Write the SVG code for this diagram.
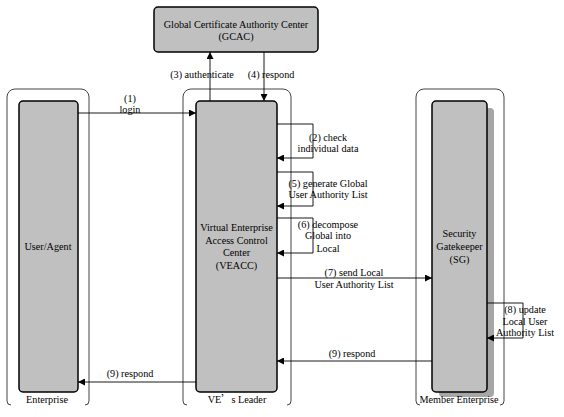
<svg xmlns="http://www.w3.org/2000/svg" width="564" height="417" viewBox="0 0 564 417">
<style>
text{font-family:"Liberation Serif","Times New Roman",serif;font-size:10.2px;fill:#000;text-anchor:middle}
.cont{fill:none;stroke:#444;stroke-width:1}
.box{fill:#c0c0c0;stroke:#000;stroke-width:1.5}
.ln{fill:none;stroke:#000;stroke-width:0.9}
.shadow{fill:#a6a6a6}
</style>
<defs>
<marker id="ah" viewBox="0 0 10 10" refX="10" refY="5" markerWidth="9" markerHeight="7" markerUnits="userSpaceOnUse" orient="auto">
<path d="M0,0 L10,5 L0,10 z" fill="#000"/>
</marker>
</defs>
<rect width="564" height="417" fill="#fff"/>

<g id="enterprise">
<path class="cont" d="M11,405 A4,4 0 0 1 7,401 L7,97 A8,8 0 0 1 15,89 L81,89 A8,8 0 0 1 89,97 L89,401 A4,4 0 0 1 85,405"/>
<rect class="box" x="19" y="101" width="59" height="291" rx="4"/>
<text x="48" y="250">User/Agent</text>
<text x="47" y="403">Enterprise</text>
</g>

<g id="ve-leader">
<path class="cont" d="M187,405 A4,4 0 0 1 183,401 L183,97 A8,8 0 0 1 191,89 L283,89 A8,8 0 0 1 291,97 L291,401 A4,4 0 0 1 287,405"/>
<rect class="box" x="196" y="101" width="81" height="291" rx="4"/>
<text x="236.5" y="231">Virtual Enterprise</text>
<text x="236.5" y="243.5">Access Control</text>
<text x="236.5" y="256">Center</text>
<text x="236.5" y="268.5">(VEACC)</text>
<text x="237" y="403">VE<tspan font-family="'Noto Sans CJK SC',sans-serif">’</tspan>s Leader</text>
</g>

<g id="member-enterprise">
<path class="cont" d="M420,405 A4,4 0 0 1 416,401 L416,97 A8,8 0 0 1 424,89 L496,89 A8,8 0 0 1 504,97 L504,401 A4,4 0 0 1 500,405"/>
<rect class="shadow" x="439" y="108" width="55" height="289" rx="4"/>
<rect class="box" x="432" y="101" width="55" height="291" rx="4"/>
<text x="459.5" y="237">Security</text>
<text x="459.5" y="250">Gatekeeper</text>
<text x="459.5" y="262.5">(SG)</text>
<text x="459" y="403">Member Enterprise</text>
</g>

<g id="gcac">
<rect class="box" x="154" y="7" width="164" height="45" rx="4"/>
<text x="236" y="27.5">Global Certificate Authority Center</text>
<text x="236" y="39.5">(GCAC)</text>
</g>

<g id="connectors">
<line class="ln" x1="78" y1="113" x2="196" y2="113" marker-end="url(#ah)"/>
<text x="130" y="101.5">(1)</text>
<text x="130" y="113">login</text>

<line class="ln" x1="210" y1="101" x2="210" y2="52" marker-end="url(#ah)"/>
<text x="202" y="77.5">(3) authenticate</text>
<line class="ln" x1="264" y1="52" x2="264" y2="101" marker-end="url(#ah)"/>
<text x="271" y="77.5">(4) respond</text>

<path class="ln" d="M277,124 L313,124 L313,158 L277,158" marker-end="url(#ah)"/>
<text x="328" y="140.5">(2) check</text>
<text x="328" y="151.5">individual data</text>

<path class="ln" d="M277,172 L313,172 L313,206 L277,206" marker-end="url(#ah)"/>
<text x="328" y="186.5">(5) generate Global</text>
<text x="328" y="198">User Authority List</text>

<path class="ln" d="M277,218 L313,218 L313,253 L277,253" marker-end="url(#ah)"/>
<text x="328" y="227.5">(6) decompose</text>
<text x="328" y="239">Global into</text>
<text x="328" y="251.5">Local</text>

<line class="ln" x1="277" y1="278" x2="432" y2="278" marker-end="url(#ah)"/>
<text x="354" y="276">(7) send Local</text>
<text x="354" y="287.5">User Authority List</text>

<path class="ln" d="M487,303 L523,303 L523,338 L487,338" marker-end="url(#ah)"/>
<text x="525" y="312.5">(8) update</text>
<text x="525" y="324.5">Local User</text>
<text x="525" y="336">Authority List</text>

<line class="ln" x1="432" y1="361" x2="277" y2="361" marker-end="url(#ah)"/>
<text x="352" y="356.5">(9) respond</text>

<line class="ln" x1="196" y1="382" x2="78" y2="382" marker-end="url(#ah)"/>
<text x="130" y="376.5">(9) respond</text>
</g>
</svg>
